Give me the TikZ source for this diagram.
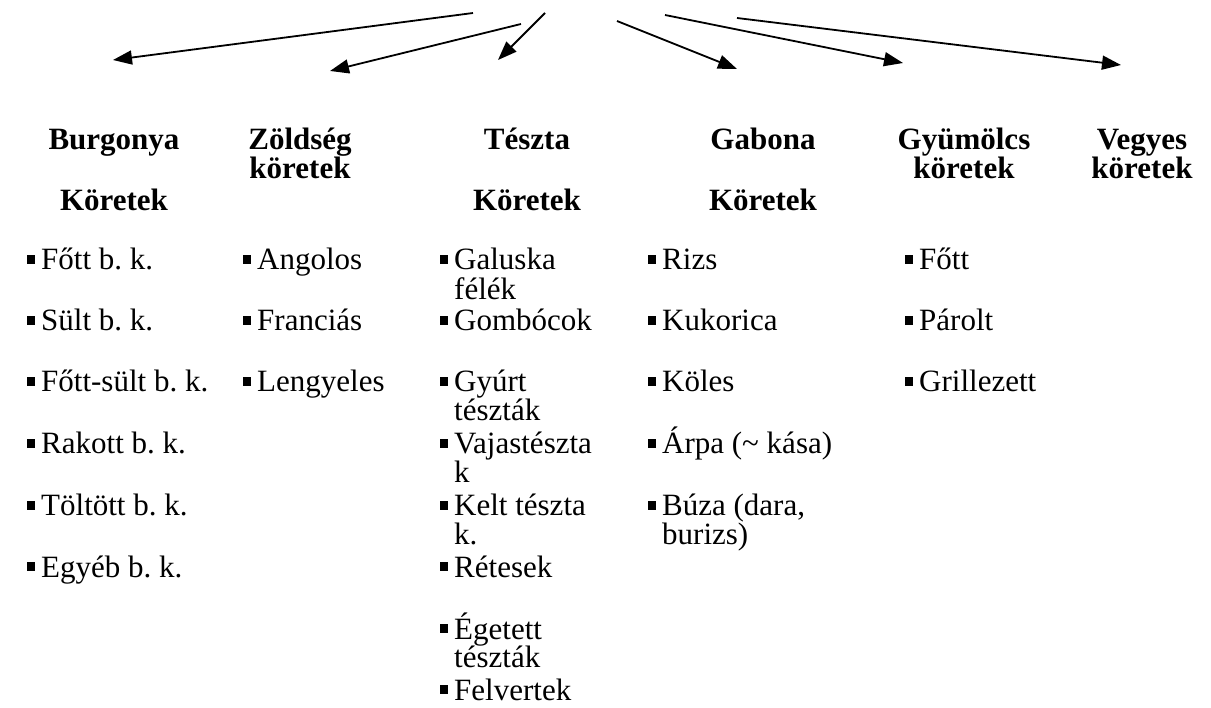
\documentclass[tikz,border=0pt]{standalone}
\usepackage{fontspec}
\setmainfont{Liberation Serif}
\usetikzlibrary{arrows.meta}

\newcommand{\bul}{\rule[6pt]{8pt}{9pt}\hspace{6pt}}
\newcommand{\tetel}[1]{\bul\begin{tabular}[t]{@{}l@{}}#1\end{tabular}}

\tikzset{
	nyil/.style={-{Triangle[length=19pt,width=14pt]}, line width=1.8pt},
	fej/.style={anchor=base, inner sep=0pt, font=\fontsize{31}{23}\selectfont\bfseries},
	elem/.style={anchor=base west, inner sep=0pt, font=\fontsize{31}{24}\selectfont\frenchspacing}
}

\begin{document}
\begin{tikzpicture}[x=1pt, y=-1pt]
		\useasboundingbox (0, 0) rectangle (1211, 708);

		% arrows from the top
		\coordinate (k1) at (473, 13);
		\coordinate (k2) at (521, 24);
		\coordinate (k3) at (545, 13);
		\coordinate (k4) at (617, 21);
		\coordinate (k5) at (665, 15);
		\coordinate (k6) at (737, 18);
		\coordinate (v1) at (113, 60);
		\coordinate (v2) at (330, 71);
		\coordinate (v3) at (498, 60);
		\coordinate (v4) at (737, 69);
		\coordinate (v5) at (903, 63);
		\coordinate (v6) at (1121, 65);

		\draw [nyil]	(k1) to (v1);
		\draw [nyil]	(k2) to (v2);
		\draw [nyil]	(k3) to (v3);
		\draw [nyil]	(k4) to (v4);
		\draw [nyil]	(k5) to (v5);
		\draw [nyil]	(k6) to (v6);

		% headings
		\node [fej] (burgonya)	at (114, 150) {\begin{tabular}[t]{@{}c@{}}Burgonya\\[32pt]Köretek\end{tabular}};
		\node [fej] (zoldseg)	at (300, 150) {\begin{tabular}[t]{@{}c@{}}Zöldség\\köretek\end{tabular}};
		\node [fej] (teszta)	at (527, 150) {\begin{tabular}[t]{@{}c@{}}Tészta\\[32pt]Köretek\end{tabular}};
		\node [fej] (gabona)	at (763, 150) {\begin{tabular}[t]{@{}c@{}}Gabona\\[32pt]Köretek\end{tabular}};
		\node [fej] (gyumolcs)	at (964, 150) {\begin{tabular}[t]{@{}c@{}}Gyümölcs\\köretek\end{tabular}};
		\node [fej] (vegyes)	at (1142, 150) {\begin{tabular}[t]{@{}c@{}}Vegyes\\köretek\end{tabular}};

		% burgonya
		\node [elem] (burgonya1)	at (27, 270) {\tetel{Főtt b. k.}};
		\node [elem] (burgonya2)	at (27, 331) {\tetel{Sült b. k.}};
		\node [elem] (burgonya3)	at (27, 392) {\tetel{Főtt-sült b. k.}};
		\node [elem] (burgonya4)	at (27, 454) {\tetel{Rakott b. k.}};
		\node [elem] (burgonya5)	at (27, 516) {\tetel{Töltött b. k.}};
		\node [elem] (burgonya6)	at (27, 577) {\tetel{Egyéb b. k.}};

		% zoldseg
		\node [elem] (zoldseg1)	at (243, 270) {\tetel{Angolos}};
		\node [elem] (zoldseg2)	at (243, 331) {\tetel{Franciás}};
		\node [elem] (zoldseg3)	at (243, 392) {\tetel{Lengyeles}};

		% teszta
		\node [elem] (teszta1)	at (440, 270) {\tetel{Galuska\\félék}};
		\node [elem] (teszta2)	at (440, 331) {\tetel{Gombócok}};
		\node [elem] (teszta3)	at (440, 392) {\tetel{Gyúrt\\tészták}};
		\node [elem] (teszta4)	at (440, 454) {\tetel{Vajastészta\\k}};
		\node [elem] (teszta5)	at (440, 516) {\tetel{Kelt tészta\\k.}};
		\node [elem] (teszta6)	at (440, 577) {\tetel{Rétesek}};
		\node [elem] (teszta7)	at (440, 639) {\tetel{Égetett\\tészták}};
		\node [elem] (teszta8)	at (440, 700) {\tetel{Felvertek}};

		% gabona
		\node [elem] (gabona1)	at (648, 270) {\tetel{Rizs}};
		\node [elem] (gabona2)	at (648, 331) {\tetel{Kukorica}};
		\node [elem] (gabona3)	at (648, 392) {\tetel{Köles}};
		\node [elem] (gabona4)	at (648, 454) {\tetel{Árpa (\char`\~{} kása)}};
		\node [elem] (gabona5)	at (648, 516) {\tetel{Búza (dara,\\burizs)}};

		% gyumolcs
		\node [elem] (gyumolcs1)	at (905, 270) {\tetel{Főtt}};
		\node [elem] (gyumolcs2)	at (905, 331) {\tetel{Párolt}};
		\node [elem] (gyumolcs3)	at (905, 392) {\tetel{Grillezett}};
	\end{tikzpicture}
\end{document}
